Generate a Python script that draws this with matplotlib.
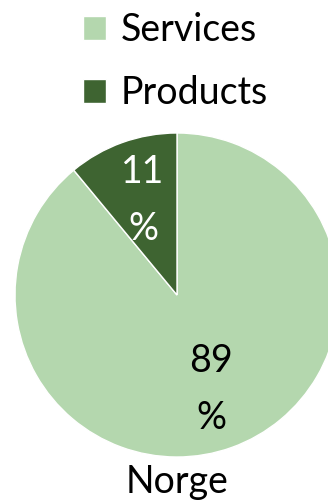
import matplotlib
matplotlib.use("Agg")
import matplotlib.pyplot as plt

categories = ["Services", "Products"]
shares = [89, 11]
colors = ["#B4D7AE", "#3E6431"]
label_colors = ["black", "white"]
title = "Norge"

plt.rcParams['font.family'] = ['Lato', 'DejaVu Sans']

W, H = 328, 503
fig = plt.figure(figsize=(W / 100, H / 100), dpi=100)
ax = fig.add_axes([0, 0, 1, 1])

# pie drawn in pixel space; it spills over the right edge like the original
wedges, texts, autotexts = ax.pie(
    shares, colors=colors, startangle=90, counterclock=False,
    center=(177, H - 295), radius=162, frame=True,
    autopct=lambda p: f"{p:.0f}\n%", pctdistance=0.62,
    wedgeprops=dict(edgecolor="white", linewidth=1),
    textprops=dict(fontsize=27, linespacing=1.75),
)
for t, c in zip(autotexts, label_colors):
    t.set_color(c)
ax.set_xlim(0, W)
ax.set_ylim(0, H)
ax.axis("off")

ax.text(177, H - 482, title, ha="center", va="center", fontsize=27)

leg = ax.legend(wedges, categories, loc="upper left", bbox_to_anchor=(68 / W, 1.0 + 3 / H),
                frameon=False, fontsize=27, handlelength=0.6, handleheight=0.6,
                handletextpad=0.4, labelspacing=0.72, borderaxespad=0)

fig.savefig("out.png", dpi=100)
